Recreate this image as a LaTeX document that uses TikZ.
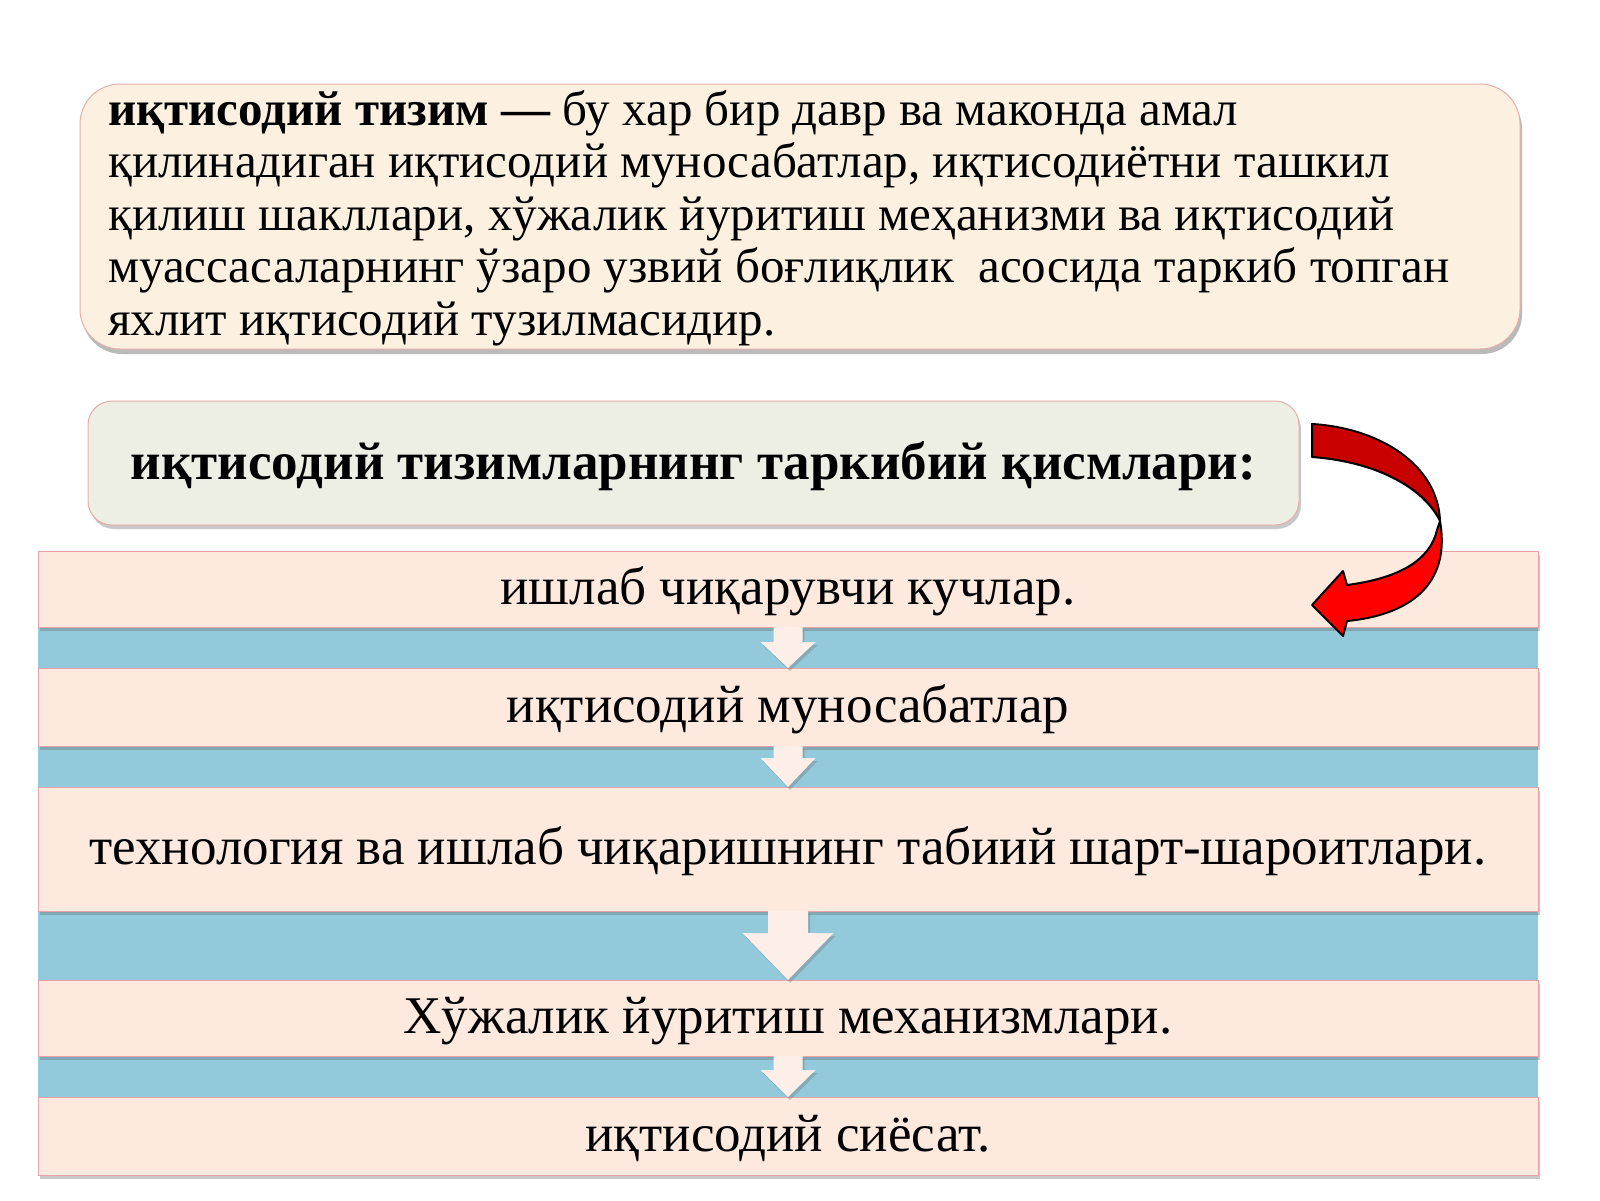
\documentclass[tikz,border=0pt]{standalone}
\usepackage{fontspec}
\setmainfont{Liberation Serif}
\usetikzlibrary{shadows,calc}
\definecolor{cream}{HTML}{FCF1E0}
\definecolor{boxedge}{HTML}{E3AFAA}
\definecolor{greybox}{HTML}{EEEFE4}
\definecolor{peach}{HTML}{FDE9DD}
\definecolor{barblue}{HTML}{92C9DB}
\definecolor{baredge}{HTML}{E6A3A8}
\definecolor{arrowfill}{HTML}{FDEFE8}
\definecolor{darkred}{HTML}{C80000}
\definecolor{brightred}{HTML}{FF0000}
\newcommand\blkarrow[5]{%
  \fill[blkarr] ($(#1.south)+(-#3,0)$) -- ($(#1.south)+(#3,0)$) --
    ($(#2.north)+(#3,-#5)$) -- ($(#2.north)+(#4,-#5)$) -- (#2.north) --
    ($(#2.north)+(-#4,-#5)$) -- ($(#2.north)+(-#3,-#5)$) -- cycle;}
\begin{document}
\begin{tikzpicture}[x=1pt,y=-1pt,
  softshadow/.style={drop shadow={opacity=0.35,shadow xshift=2pt,shadow yshift=-4pt,fill=black!60}},
  defbox/.style={draw=boxedge,line width=1pt,fill=cream,rounded corners=40pt,inner sep=0pt,outer sep=0pt,
     drop shadow={opacity=0.45,shadow xshift=2pt,shadow yshift=-5pt,fill=black!60}},
  deftext/.style={inner sep=0pt,anchor=base west,font=\fontsize{49}{55}\selectfont},
  titlebox/.style={draw=boxedge,line width=1pt,fill=greybox,rounded corners=24pt,inner sep=0pt,outer sep=0pt,softshadow,
     font=\fontsize{53}{60}\selectfont\bfseries,text height=38pt,text depth=6pt},
  bar/.style={draw=baredge,line width=0.8pt,fill=peach,minimum width=1500pt,inner sep=0pt,outer sep=0pt,
     font=\fontsize{53}{60}\selectfont,text height=37pt,text depth=6pt,softshadow},
  blkarr/.style={fill=arrowfill,drop shadow={opacity=0.3,shadow xshift=2pt,shadow yshift=-3pt,fill=black!60}},
  redpart/.style={draw=black,line width=2pt,line join=round}]
\useasboundingbox (0,0) rectangle (1600,1200);
\fill[white] (0,0) rectangle (1600,1200);
% definition box
\node[defbox,minimum width=1440pt,minimum height=265pt,anchor=north west] (def) at (80,84) {};
\node[deftext] (l1) at (108,125) {\textbf{иқтисодий тизим —} бу хар бир давр ва маконда амал};
\node[deftext] (l2) at (108,177.5) {қилинадиган иқтисодий муносабатлар, иқтисодиётни ташкил};
\node[deftext] (l3) at (108,230) {қилиш шакллари, хўжалик йуритиш меҳанизми ва иқтисодий};
\node[deftext] (l4) at (108,282.5) {муассасаларнинг ўзаро узвий боғлиқлик\ \ асосида таркиб топган};
\node[deftext] (l5) at (108,335) {яхлит иқтисодий тузилмасидир.};
% title box
\node[titlebox,minimum width=1211pt,minimum height=124pt] (title) at (693.5,463) {иқтисодий тизимларнинг таркибий қисмлари:};
% blue band
\fill[barblue] (38,605) rectangle (1538,1115);
% bars
\node[bar,minimum height=76pt] (b1) at (788,589) {ишлаб чиқарувчи кучлар.};
\node[bar,minimum height=78pt] (b2) at (788,707) {иқтисодий муносабатлар};
\node[bar,minimum height=124pt] (b3) at (788,849) {технология ва ишлаб чиқаришнинг табиий шарт-шароитлари.};
\node[bar,minimum height=76pt] (b4) at (788,1018) {Хўжалик йуритиш механизмлари.};
\node[bar,minimum height=78pt] (b5) at (788,1136) {иқтисодий сиёсат.};
% small arrows
\blkarrow{b1}{b2}{14.5}{27.5}{26}
\blkarrow{b2}{b3}{14.5}{27.5}{29}
\blkarrow{b3}{b4}{20}{45.5}{47}
\blkarrow{b4}{b5}{14.5}{27.5}{27}
% red curved arrow
\coordinate (rtail) at (1312,424);
\coordinate (rtwist) at (1440,521);
\coordinate (rtip) at (1312,605);
\draw[redpart,fill=darkred] (rtail) .. controls (1380,428) and (1438,465) .. (rtwist)
   .. controls (1425,490) and (1380,462) .. (1312,457) -- cycle;
\draw[redpart,fill=brightred] (rtwist) .. controls (1450,578) and (1418,614) .. (1347,621)
   -- (1343,636) -- (rtip) -- (1343,571) -- (1347,585)
   .. controls (1400,578) and (1430,560) .. (1437,530) -- cycle;
\end{tikzpicture}
\end{document}
